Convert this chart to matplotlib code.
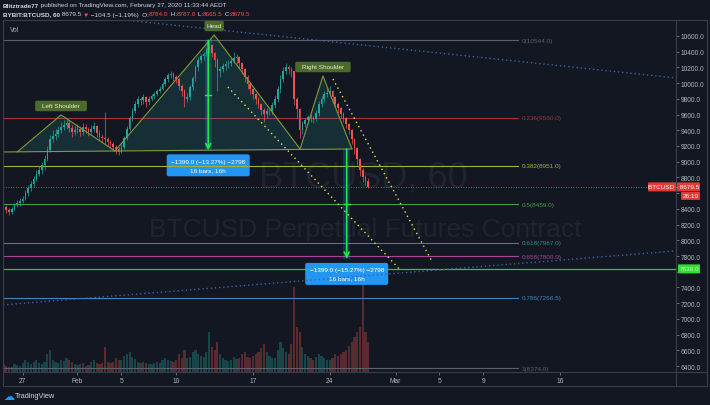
import matplotlib
matplotlib.use('Agg')
import matplotlib.pyplot as plt
import matplotlib.dates as mdates
from matplotlib import font_manager
from matplotlib.patches import FancyBboxPatch, Rectangle, Polygon
from matplotlib.lines import Line2D
from matplotlib.transforms import IdentityTransform
import numpy as np
import pandas as pd

names = {f.name for f in font_manager.fontManager.ttflist}
narrow = 'Liberation Sans Narrow' if 'Liberation Sans Narrow' in names else 'Liberation Sans'
plt.rcParams['font.family'] = [narrow, 'DejaVu Sans']

BG = '#131722'
TXT = '#b2b5be'
UP = '#26a69a'
DOWN = '#ef5350'

# BYBIT:BTCUSD, as 6h candles from 25 Jan 06:00 (local time)
candle_start = '2020-01-25 06:00'
first_open = 8440
closes = [8420, 8380, 8360,
          8400, 8450, 8470, 8500,
          8530, 8600, 8660, 8720,
          8780, 8850, 8890, 8960,
          9040, 9150, 9290, 9330,
          9350, 9400, 9440, 9470,
          9490, 9430, 9380, 9400,
          9420, 9380, 9440, 9410,
          9380, 9420, 9450, 9360,
          9320, 9300, 9290, 9250,
          9225, 9190, 9160, 9130,
          9190, 9300, 9420, 9550,
          9650, 9740, 9800, 9780,
          9820, 9760, 9800, 9830,
          9860, 9900, 9930, 9990,
          10050, 10100, 10120, 10080,
          10050, 9960, 9900, 9800,
          9820, 9950, 10060, 10200,
          10300, 10340, 10370, 10420,
          10490, 10380, 10300, 10150,
          10180, 10220, 10240, 10260,
          10280, 10320, 10330, 10260,
          10180, 10080, 9990, 9920,
          9860, 9800, 9735, 9660,
          9610, 9640, 9650, 9720,
          9800, 9920, 10050, 10150,
          10200, 10180, 10150, 9800,
          9670, 9400, 9480, 9530,
          9570, 9560, 9545, 9620,
          9735, 9800, 9860, 9880,
          9900, 9820, 9735, 9680,
          9610, 9550, 9480, 9400,
          9290, 9180, 9035, 8900,
          8810, 8760, 8679.5]
highs = [8480, 8450, 8410,
         8430, 8480, 8510, 8540,
         8570, 8640, 8700, 8760,
         8820, 8890, 8940, 9000,
         9080, 9200, 9340, 9400,
         9420, 9450, 9500, 9530,
         9560, 9530, 9470, 9450,
         9480, 9460, 9490, 9480,
         9440, 9470, 9500, 9470,
         9400, 9350, 9630, 9320,
         9280, 9250, 9210, 9190,
         9220, 9330, 9450, 9580,
         9680, 9770, 9830, 9820,
         9860, 9830, 9830, 9860,
         9890, 9930, 9960, 10020,
         10080, 10130, 10160, 10140,
         10100, 10070, 9990, 9930,
         9870, 9980, 10090, 10230,
         10330, 10370, 10400, 10450,
         10544, 10500, 10400, 10320,
         10220, 10260, 10280, 10300,
         10320, 10400, 10370, 10340,
         10270, 10190, 10100, 10020,
         9940, 9880, 9820, 9750,
         9680, 9680, 9690, 9760,
         9850, 9960, 10100, 10200,
         10250, 10230, 10210, 10160,
         9820, 9680, 9520, 9560,
         9600, 9610, 9580, 9660,
         9770, 9840, 9900, 9950,
         9960, 9910, 9830, 9760,
         9700, 9630, 9570, 9490,
         9410, 9300, 9190, 9050,
         8920, 8830, 8787]
lows = [8390, 8350, 8320,
        8340, 8380, 8420, 8440,
        8470, 8510, 8570, 8630,
        8680, 8750, 8820, 8850,
        8900, 9010, 9120, 9250,
        9280, 9310, 9360, 9400,
        9420, 9380, 9320, 9340,
        9360, 9330, 9340, 9370,
        9330, 9350, 9380, 9320,
        9270, 9250, 9230, 9200,
        9170, 9140, 9100, 9090,
        9110, 9160, 9270, 9400,
        9520, 9620, 9700, 9720,
        9740, 9700, 9720, 9770,
        9800, 9840, 9870, 9910,
        9960, 10020, 10060, 10030,
        10000, 9910, 9840, 9700,
        9760, 9790, 9910, 10030,
        10160, 10260, 10300, 10340,
        10380, 10330, 10200, 9900,
        10080, 10140, 10170, 10190,
        10220, 10250, 10240, 10180,
        10120, 10020, 9930, 9860,
        9800, 9740, 9680, 9600,
        9500, 9560, 9590, 9610,
        9680, 9760, 9880, 10010,
        10110, 10120, 10080, 9720,
        9560, 9300, 9350, 9440,
        9480, 9500, 9490, 9520,
        9580, 9700, 9760, 9820,
        9830, 9770, 9690, 9620,
        9560, 9500, 9430, 9350,
        9230, 9100, 8960, 8820,
        8740, 8700, 8665.5]
volumes = [8, 6, 5,
           5, 8, 7, 6,
           9, 12, 10, 8,
           10, 12, 9, 8,
           10, 18, 22, 12,
           10, 9, 12, 11,
           14, 12, 10, 8,
           7, 8, 9, 6,
           7, 10, 12, 9,
           8, 9, 25, 10,
           9, 10, 14, 12,
           12, 16, 18, 20,
           15, 13, 10, 9,
           10, 9, 8, 8,
           9, 10, 9, 12,
           14, 12, 11, 10,
           12, 18, 14, 22,
           14, 15, 20, 22,
           18, 16, 15, 20,
           40, 25, 22, 30,
           18, 14, 12, 11,
           12, 15, 13, 14,
           18, 20, 15, 14,
           16, 18, 20, 24,
           28, 20, 16, 14,
           14, 22, 30, 24,
           20, 18, 28, 85,
           45, 40, 25, 18,
           16, 14, 12, 15,
           18, 16, 14, 12,
           12, 14, 18, 16,
           18, 20, 22, 26,
           30, 35, 40, 45,
           90, 40, 30]

# fibonacci retracement
fib_ratios = ['0', '0.236', '0.382', '0.5', '0.618', '0.658', '0.786', '1']
fib_prices = [10544.0, 9560.0, 8951.0, 8459.0, 7967.0, 7800.0, 7266.5, 6374.0]
fib_colors = ['#5d606b', '#a8323a', '#a3b13f', '#3f9e46', '#1f948a', '#a3479b', '#3f86bf', '#5d606b']
fib_end = '2020-03-12 04:00'

# head and shoulders drawing
hs_times = ['2020-01-26 12:00', '2020-01-30 12:00', '2020-02-04 10:00', '2020-02-13 11:00',
            '2020-02-21 07:00', '2020-02-23 09:00', '2020-02-26 00:30']
hs_prices = [9124, 9595, 9137, 10613, 9162, 10091, 9162]
hs_names = ['', 'Left Shoulder', '', 'Head', '', 'Right Shoulder', '']
neck_times = ['2020-01-25 05:00', '2020-02-26 00:30']
neck_prices = [9124, 9162]

# trend lines
yellow_lines = [(('2020-02-14 17:00', 9951), ('2020-03-01 12:00', 7610)),
                (('2020-02-24 07:00', 10053), ('2020-03-04 07:00', 7737))]
blue_lines = [(('2020-02-03 01:00', 10837), ('2020-03-26 13:30', 10066)),
              (('2020-01-25 05:00', 7178), ('2020-03-26 13:30', 7865))]

# price range measurements
m_spans = [('2020-02-12 14:00', '2020-02-13 06:00'), ('2020-02-25 05:00', '2020-02-25 21:00')]
m_from = [10544.0, 9162.0]
m_to = [9145.0, 7763.0]
m_text = ['\u22121399.0 (\u221213.27%) \u22122798\n16 bars, 16h',
          '\u22121399.0 (\u221215.27%) \u22122798\n16 bars, 16h']

last_price = 8679.5
support = 7636.0

tick_dates = ['2020-01-27', '2020-02-01', '2020-02-05', '2020-02-10', '2020-02-17',
              '2020-02-24', '2020-03-01', '2020-03-05', '2020-03-09', '2020-03-16']
tick_labels = ['27', 'Feb', '5', '10', '17', '24', 'Mar', '5', '9', '16']
price_ticks = np.arange(6400, 10601, 200)
hidden_ticks = [7600, 8600]   # covered by the price labels


def num(s):
    return mdates.date2num(pd.Timestamp(s))


W, H = 710, 406
fig = plt.figure(figsize=(7.1, 4.06), dpi=100, facecolor=BG)
ax = fig.add_axes([3 / W, 33 / H, 673 / W, 352 / H])
vax = ax.twinx()
ax.set_zorder(1)
vax.set_zorder(0)
ax.patch.set_visible(False)
vax.patch.set_facecolor(BG)

ax.set_xlim(num('2020-01-25 05:00'), num('2020-03-26 13:30'))
ax.set_ylim(6323.7, 10803.6)
vax.set_ylim(0, 352)

# candles
t = mdates.date2num(pd.date_range(candle_start, periods=len(closes), freq='6h'))
c = np.array(closes, dtype=float)
o = np.array([first_open] + closes[:-1], dtype=float)
cols = np.where(c >= o, UP, DOWN)
ax.vlines(t, lows, highs, colors=cols, lw=0.5, zorder=3)
ax.bar(t, c - o, bottom=o, width=0.15, color=cols, zorder=3.1, linewidth=0)
vax.bar(t, volumes, width=0.2, color=cols, alpha=0.32, linewidth=0)

# watermark
vax.text(0.536, 0.554, 'BTCUSD, 60', transform=vax.transAxes, ha='center', va='center',
         fontsize=26, color='#20242f')
vax.text(0.538, 0.406, 'BTCUSD Perpetual Futures Contract', transform=vax.transAxes,
         ha='center', va='center', fontsize=19, color='#20242f')

# fib levels
x0 = ax.get_xlim()[0]
for r, p, col in zip(fib_ratios, fib_prices, fib_colors):
    ax.plot([x0, num(fib_end)], [p, p], color=col, lw=0.8, zorder=1)
    ax.text(num(fib_end) + 0.35, p, f'{r}({p:.1f})', color=col, fontsize=4.6,
            va='center', ha='left', zorder=5)

ax.axhline(last_price, color=DOWN, lw=0.6, ls=(0, (1, 2)), zorder=2)
ax.axhline(support, color='#3fbf45', lw=0.9, zorder=2)

# head and shoulders
hx = [num(s) for s in hs_times]
ax.add_patch(Polygon(list(zip(hx, hs_prices)), closed=True, fc=UP, alpha=0.17, ec='none', zorder=1.5))
ax.plot(hx, hs_prices, color='#7f9a3c', lw=0.8, zorder=4)
ax.plot([num(s) for s in neck_times], neck_prices, color='#7f9a3c', lw=0.8, zorder=4)

for a, b in yellow_lines:
    ax.plot([num(a[0]), num(b[0])], [a[1], b[1]], color='#e3e34a', lw=1.0, ls=(0, (1, 2.5)), zorder=4)
for a, b in blue_lines:
    ax.plot([num(a[0]), num(b[0])], [a[1], b[1]], color='#3f5fb0', lw=1.0, ls=(0, (1, 2)), zorder=4)

# measurements
for (s0, s1), p0, p1 in zip(m_spans, m_from, m_to):
    ax.add_patch(Rectangle((num(s0), p1), num(s1) - num(s0), p0 - p1, fc='#2196f3', alpha=0.22,
                           ec='none', zorder=2))
    xm = (num(s0) + num(s1)) / 2
    ax.annotate('', xy=(xm, p1), xytext=(xm, p0),
                arrowprops=dict(arrowstyle='->', color='#1ee84a', lw=1.2, shrinkA=0, shrinkB=0,
                                mutation_scale=9), zorder=6)
    ax.plot([xm - 0.28, xm + 0.28], [(p0 + p1) / 2] * 2, color='#1ee84a', lw=1.0, zorder=6)


def to_img(x, y):
    dx, dy = ax.transData.transform((x, y))
    return dx, H - dy


def box(xc, yc, w, h, fc, text, color, size, r=1.5, weight='normal', ls=1.2):
    fig.add_artist(FancyBboxPatch((xc - w / 2, H - yc - h / 2), w, h,
                                  boxstyle=f'round,pad=0,rounding_size={r}', fc=fc, ec='none',
                                  transform=IdentityTransform()))
    fig.text(xc, H - yc, text, transform=IdentityTransform(), ha='center', va='center',
             color=color, fontsize=size, weight=weight, linespacing=ls)


for (s0, s1), p1, txt in zip(m_spans, m_to, m_text):
    bx, by = to_img((num(s0) + num(s1)) / 2, p1)
    box(bx, by + 15, 83, 22, '#2196f3', txt, 'white', 4.6, r=2, ls=1.8)

for x, p, name in zip(hx, hs_prices, hs_names):
    if name:
        bx, by = to_img(x, p)
        box(bx, by - 9, len(name) * 3.6 + 5, 10.5, '#4b6a2c', name, '#e6ecd9', 4.6, r=1.5)

# axes styling
for sp in list(ax.spines.values()) + list(vax.spines.values()):
    sp.set_visible(False)
vax.set_yticks([])
ax.yaxis.tick_right()
ax.set_yticks(price_ticks)
ax.set_yticklabels(['' if v in hidden_ticks else f'{v:.1f}' for v in price_ticks])
ax.set_xticks([num(d) for d in tick_dates])
ax.set_xticklabels(tick_labels)
ax.tick_params(axis='both', colors='#787b86', labelcolor=TXT, labelsize=4.8, length=2, pad=1.5, width=0.6)

# axis price labels
_, ly = to_img(0, last_price)
box(674, ly, 52, 9, '#e53935', 'BTCUSD - 8679.5', 'white', 4.6, r=0.8)
box(690.5, ly + 9, 19, 8, '#e53935', '26:19', 'white', 4.6, r=0.8)
_, sy = to_img(0, support)
box(689, sy, 22, 9, '#2fe02f', '7636.0', '#c8ffc8', 4.6, r=0.8)

# pane borders
for (xa, ya), (xb, yb) in [((3, 21), (707, 21)), ((3, 21), (3, 387)), ((707, 21), (707, 387)),
                           ((3, 373), (707, 373)), ((3, 387), (707, 387)), ((676, 21), (676, 387))]:
    fig.add_artist(Line2D([xa / W, xb / W], [1 - ya / H, 1 - yb / H], color='#3a3e49', lw=0.8))

fig.text(10 / W, 1 - 31 / H, 'Vol', color=TXT, fontsize=4.8, va='center')

# header
HS = 4.6
h1 = fig.text(3 / W, 1 - 6 / H, 'Blitztrade77', color='#d1d4dc', fontsize=HS, weight='bold', va='center')
ax.annotate(' published on TradingView.com, February 27, 2020 11:33:44 AEDT', xy=(1, 0.5), xycoords=h1,
            va='center', ha='left', color='#d1d4dc', fontsize=HS, annotation_clip=False)
pieces = [(' 8679.5 ', '#d1d4dc'), ('\u25bc', '#ef5350'),
          (' \u2212104.5 (\u22121.19%)  O:', '#d1d4dc'), ('8784.0', '#ef5350'),
          (' H:', '#d1d4dc'), ('8787.0', '#ef5350'), (' L:', '#d1d4dc'),
          ('8665.5', '#ef5350'), (' C:', '#d1d4dc'), ('8679.5', '#ef5350')]
prev = fig.text(3 / W, 1 - 15 / H, 'BYBIT:BTCUSD, 60', color='#d1d4dc', fontsize=HS, weight='bold', va='center')
for s, col in pieces:
    prev = ax.annotate(s, xy=(1, 0.5), xycoords=prev, va='center', ha='left', color=col,
                       fontsize=HS, annotation_clip=False)

# footer logo
fig.text(3 / W, 1 - 397 / H, '\u2601', color='#2196f3', fontsize=8, va='center', family='DejaVu Sans')
fig.text(15 / W, 1 - 397 / H, 'TradingView', color='#d1d4dc', fontsize=5.3, va='center')

fig.savefig('out.png', dpi=100, facecolor=BG)
